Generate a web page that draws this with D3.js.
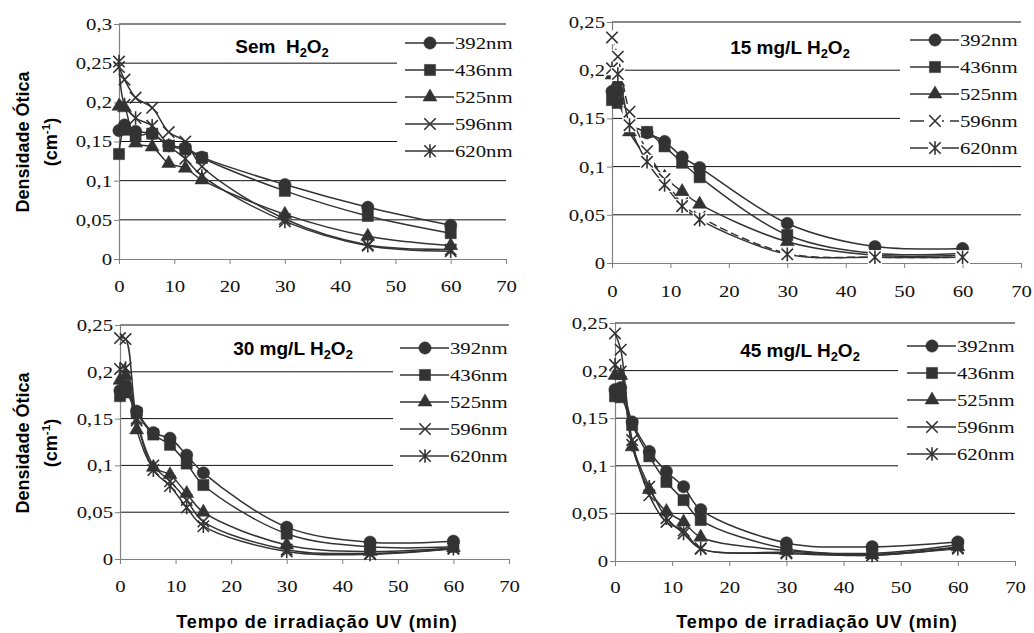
<!DOCTYPE html>
<html>
<head>
<meta charset="utf-8">
<script src="https://cdn.jsdelivr.net/npm/d3@7"></script>
<style>
  body { margin: 0; background: #fff; }
  svg { display: block; }
</style>
</head>
<body>
<div id="chart"></div>
<script>
// irradiation times (min)
const times = [0, 1, 3, 6, 9, 12, 15, 30, 45, 60];
const wavelengths = ["392nm", "436nm", "525nm", "596nm", "620nm"];
const xTicks = [0, 10, 20, 30, 40, 50, 60, 70];
const yTicksSem = [0, 0.05, 0.1, 0.15, 0.2, 0.25, 0.3];
const yTicks = [0, 0.05, 0.1, 0.15, 0.2, 0.25];

// optical density, one row per wavelength
const semH2O2 = [
  [0.164, 0.171, 0.163, 0.160, 0.145, 0.142, 0.130, 0.095, 0.066, 0.043],
  [0.134, 0.165, 0.157, 0.160, 0.144, 0.140, 0.129, 0.087, 0.055, 0.033],
  [0.195, 0.193, 0.148, 0.143, 0.122, 0.116, 0.101, 0.057, 0.029, 0.017],
  [0.245, 0.229, 0.206, 0.193, 0.162, 0.150, 0.118, 0.051, 0.018, 0.012],
  [0.252, 0.197, 0.180, 0.170, 0.145, 0.128, 0.106, 0.048, 0.017, 0.010]
];
const h2o2_15 = [
  [0.178, 0.178, 0.145, 0.135, 0.126, 0.110, 0.099, 0.041, 0.017, 0.015],
  [0.169, 0.166, 0.143, 0.136, 0.121, 0.104, 0.089, 0.029, 0.010, 0.010],
  [0.195, 0.188, 0.136, 0.110, 0.089, 0.074, 0.061, 0.022, 0.008, 0.008],
  [0.234, 0.214, 0.157, 0.116, 0.087, 0.062, 0.048, 0.010, 0.006, 0.006],
  [0.202, 0.196, 0.143, 0.105, 0.081, 0.059, 0.045, 0.009, 0.006, 0.006]
];
const h2o2_30 = [
  [0.180, 0.185, 0.158, 0.135, 0.129, 0.111, 0.092, 0.034, 0.018, 0.019],
  [0.174, 0.178, 0.156, 0.133, 0.122, 0.102, 0.079, 0.027, 0.013, 0.013],
  [0.191, 0.196, 0.138, 0.098, 0.090, 0.070, 0.050, 0.015, 0.008, 0.012],
  [0.236, 0.235, 0.150, 0.100, 0.083, 0.063, 0.040, 0.010, 0.006, 0.011],
  [0.203, 0.204, 0.148, 0.095, 0.078, 0.055, 0.035, 0.008, 0.005, 0.011]
];
const h2o2_45 = [
  [0.180, 0.182, 0.146, 0.115, 0.094, 0.078, 0.054, 0.019, 0.015, 0.020],
  [0.173, 0.172, 0.143, 0.110, 0.083, 0.064, 0.043, 0.013, 0.008, 0.017],
  [0.195, 0.195, 0.120, 0.075, 0.052, 0.041, 0.025, 0.011, 0.007, 0.015],
  [0.239, 0.222, 0.127, 0.069, 0.041, 0.032, 0.013, 0.009, 0.006, 0.014],
  [0.206, 0.199, 0.122, 0.078, 0.045, 0.029, 0.013, 0.008, 0.006, 0.013]
];
const titles = ["Sem  ", "15 mg/L ", "30 mg/L ", "45 mg/L "];

const width = 1034, height = 633;
const ink = "#333";
const serif = "'Liberation Serif', 'Times New Roman', serif";
const sans = "'Liberation Sans', Arial, sans-serif";

const svg = d3.select("#chart").append("svg")
    .attr("width", width)
    .attr("height", height);

// layout of the four panels
const panels = [
  {values: semH2O2, title: titles[0], ticks: yTicksSem, yMax: 0.3,
   x0: 119, x1: 506, yTop: 24, yBot: 259, tickY: 292,
   legX: 405, legY: 43, box: [397, 32, 506, 166], titleX: 282, titleY: 53,
   yLabel: 142, xLabel: null, dashed: -1, halo: false},
  {values: h2o2_15, title: titles[1], ticks: yTicks, yMax: 0.25,
   x0: 612, x1: 1021, yTop: 22, yBot: 263, tickY: 297,
   legX: 910, legY: 40, box: [900, 28, 1021, 160], titleX: 790, titleY: 54,
   yLabel: null, xLabel: null, dashed: 3, halo: true},
  {values: h2o2_30, title: titles[2], ticks: yTicks, yMax: 0.25,
   x0: 120, x1: 509, yTop: 325, yBot: 559, tickY: 592,
   legX: 400, legY: 348, box: [393, 333, 509, 478], titleX: 293, titleY: 355,
   yLabel: 443, xLabel: 317, dashed: -1, halo: false},
  {values: h2o2_45, title: titles[3], ticks: yTicks, yMax: 0.25,
   x0: 615, x1: 1015, yTop: 323, yBot: 561, tickY: 593,
   legX: 907, legY: 346, box: [898, 331, 1015, 478], titleX: 800, titleY: 357,
   yLabel: null, xLabel: 817, dashed: -1, halo: false}
];

const xMark = {
  draw(ctx, size) {
    const r = Math.sqrt(size) / 2;
    ctx.moveTo(-r, -r); ctx.lineTo(r, r);
    ctx.moveTo(r, -r); ctx.lineTo(-r, r);
  }
};
const starMark = {
  draw(ctx, size) {
    const r = Math.sqrt(size) / 2;
    ctx.moveTo(-r, -r); ctx.lineTo(r, r);
    ctx.moveTo(r, -r); ctx.lineTo(-r, r);
    ctx.moveTo(0, -r * 1.2); ctx.lineTo(0, r * 1.2);
  }
};
const shapes = [
  {type: d3.symbolCircle, size: 120, fill: true},
  {type: d3.symbolSquare, size: 125, fill: true},
  {type: d3.symbolTriangle, size: 85, fill: true},
  {type: xMark, size: 130, fill: false},
  {type: starMark, size: 130, fill: false}
];

function fmt(d) { return String(d).replace(".", ","); }

function drawMarker(g, si, x, y, halo) {
  const s = shapes[si];
  if (halo && !s.fill) {
    g.append("rect").attr("x", x - 7).attr("y", y - 7)
      .attr("width", 14).attr("height", 14).attr("fill", "#fff");
  }
  g.append("path")
    .attr("d", d3.symbol().type(s.type).size(s.size)())
    .attr("transform", `translate(${x},${y})`)
    .attr("fill", s.fill ? ink : "none")
    .attr("stroke", ink)
    .attr("stroke-width", s.fill ? 0.5 : 1.6);
}

function addH2O2(text) {
  text.append("tspan").text("H");
  text.append("tspan").attr("font-size", "0.68em").attr("dy", 4).text("2");
  text.append("tspan").attr("dy", -4).text("O");
  text.append("tspan").attr("font-size", "0.68em").attr("dy", 4).text("2");
}

panels.forEach(p => {
  const x = d3.scaleLinear().domain([0, 70]).range([p.x0, p.x1]);
  const y = d3.scaleLinear().domain([0, p.yMax]).range([p.yBot, p.yTop]);
  const g = svg.append("g");

  // gridlines
  g.selectAll("line.grid").data(p.ticks.filter(t => t > 0)).enter()
    .append("line")
    .attr("x1", p.x0).attr("x2", p.x1)
    .attr("y1", d => y(d)).attr("y2", d => y(d))
    .attr("stroke", "#111").attr("stroke-width", 1);

  // legend background hides the gridlines behind it
  g.append("rect")
    .attr("x", p.box[0]).attr("y", p.box[1])
    .attr("width", p.box[2] - p.box[0]).attr("height", p.box[3] - p.box[1])
    .attr("fill", "#fff");

  // axes
  const yAxis = g.append("g")
    .attr("transform", `translate(${p.x0},0)`)
    .call(d3.axisLeft(y).tickValues(p.ticks).tickSize(5).tickSizeOuter(0).tickPadding(2).tickFormat(fmt));
  const xAxis = g.append("g")
    .attr("transform", `translate(0,${p.yBot})`)
    .call(d3.axisBottom(x).tickValues(xTicks).tickSize(5).tickSizeOuter(0));
  [yAxis, xAxis].forEach(a => {
    a.select(".domain").attr("stroke", "#808080").attr("stroke-width", 1.2);
    a.selectAll(".tick line").attr("stroke", "#808080");
    a.selectAll("text").attr("class", "serif")
      .attr("font-family", serif).attr("font-size", 17).attr("fill", "#111");
  });
  xAxis.selectAll("text").attr("y", p.tickY - p.yBot).attr("dy", 0);

  // series
  const line = d3.line()
    .x((d, i) => x(times[i]))
    .y(d => y(d))
    .curve(d3.curveCatmullRom.alpha(0.5));
  p.values.forEach((vals, si) => {
    const sg = g.append("g");
    sg.append("path")
      .attr("d", line(vals))
      .attr("fill", "none")
      .attr("stroke", ink)
      .attr("stroke-width", 1.5)
      .attr("stroke-dasharray", si === p.dashed ? "8,4" : null);
    vals.forEach((v, i) => drawMarker(sg, si, x(times[i]), y(v), p.halo));
  });

  // legend
  wavelengths.forEach((w, si) => {
    const ly = p.legY + si * 27;
    g.append("line")
      .attr("x1", p.legX).attr("x2", p.legX + 49)
      .attr("y1", ly).attr("y2", ly)
      .attr("stroke", ink).attr("stroke-width", 1.5)
      .attr("stroke-dasharray", si === p.dashed ? "14,6" : null);
    drawMarker(g, si, p.legX + 25, ly, p.halo);
    g.append("text").attr("class", "serif")
      .attr("x", p.legX + 50).attr("y", ly + 6)
      .attr("font-family", serif).attr("font-size", 17).attr("fill", "#111")
      .text(w);
  });

  // panel title
  const t = g.append("text")
    .attr("x", p.titleX).attr("y", p.titleY)
    .attr("text-anchor", "middle")
    .attr("font-family", sans).attr("font-weight", "bold").attr("font-size", 19)
    .style("white-space", "pre")
    .text(p.title);
  addH2O2(t);

  if (p.yLabel !== null) {
    g.append("text")
      .attr("transform", `translate(29,${p.yLabel}) rotate(-90)`)
      .attr("text-anchor", "middle")
      .attr("font-family", sans).attr("font-weight", "bold").attr("font-size", 18)
      .text("Densidade Ótica");
    const u = g.append("text")
      .attr("transform", `translate(57,${p.yLabel}) rotate(-90)`)
      .attr("text-anchor", "middle")
      .attr("font-family", sans).attr("font-weight", "bold").attr("font-size", 18);
    u.append("tspan").text("(cm");
    u.append("tspan").attr("font-size", "0.65em").attr("dy", -7).text("-1");
    u.append("tspan").attr("dy", 7).text(")");
  }
  if (p.xLabel !== null) {
    g.append("text")
      .attr("x", p.xLabel).attr("y", 628)
      .attr("text-anchor", "middle")
      .attr("font-family", sans).attr("font-weight", "bold").attr("font-size", 18)
      .attr("letter-spacing", 1)
      .text("Tempo de irradiação UV (min)");
  }
});

// the serif labels in the original are drawn wider than the font
svg.selectAll("text.serif").each(function () {
  const w = this.getComputedTextLength();
  this.setAttribute("textLength", w * 1.22);
  this.setAttribute("lengthAdjust", "spacingAndGlyphs");
});
</script>
</body>
</html>
